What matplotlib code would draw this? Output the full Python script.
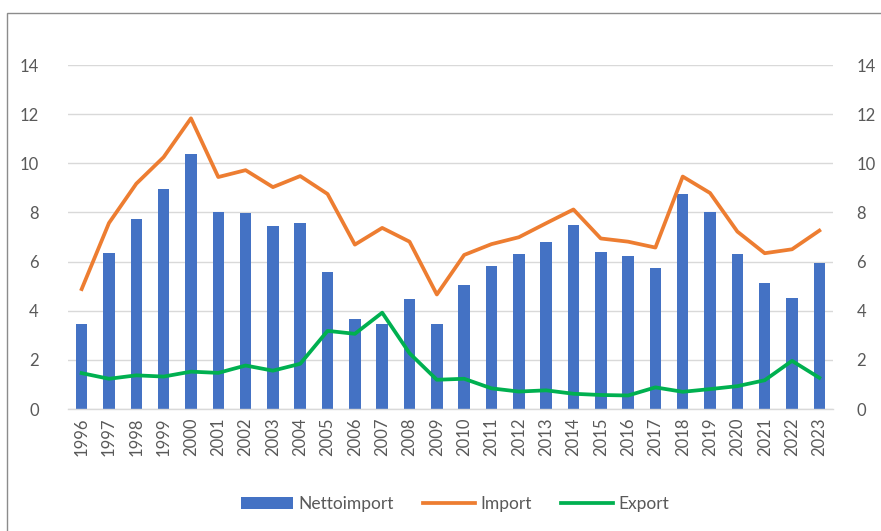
import matplotlib
matplotlib.use("Agg")
import matplotlib.pyplot as plt
from matplotlib.patches import Rectangle
import numpy as np

years = [str(y) for y in range(1996, 2024)]
nettoimport = [3.45, 6.35, 7.75, 8.97, 10.37, 8.02, 7.97, 7.43, 7.59, 5.57,
               3.66, 3.47, 4.49, 3.47, 5.04, 5.82, 6.29, 6.79, 7.49, 6.38,
               6.23, 5.72, 8.74, 8.02, 6.29, 5.14, 4.51, 5.95]
import_ = [4.88, 7.57, 9.17, 10.25, 11.83, 9.44, 9.72, 9.03, 9.48, 8.75,
           6.69, 7.37, 6.81, 4.66, 6.27, 6.71, 6.99, 7.56, 8.12, 6.94,
           6.81, 6.57, 9.46, 8.79, 7.22, 6.34, 6.50, 7.26]
export = [1.46, 1.23, 1.37, 1.32, 1.52, 1.47, 1.77, 1.56, 1.84, 3.18,
          3.06, 3.92, 2.27, 1.19, 1.23, 0.84, 0.71, 0.76, 0.62, 0.57,
          0.55, 0.88, 0.70, 0.81, 0.93, 1.17, 1.96, 1.27]
yticks = [0, 2, 4, 6, 8, 10, 12, 14]

plt.rcParams['font.family'] = ['Lato', 'DejaVu Sans']
fig = plt.figure(figsize=(8.81, 5.31), dpi=100)
W, H = 881, 531
ax = fig.add_axes([68 / W, (H - 409) / H, (833 - 68) / W, (409 - 65) / H])

x = np.arange(len(years))
b = ax.bar(x, nettoimport, width=0.42, color='#4472C4', label='Nettoimport', zorder=2)
l1, = ax.plot(x, import_, color='#ED7D31', lw=2.7, label='Import', zorder=3)
l2, = ax.plot(x, export, color='#00B050', lw=2.7, label='Export', zorder=3)

ax.set_xlim(-0.5, len(years) - 0.5)
ax.set_ylim(0, 14)
ax.set_yticks(yticks)
ax.set_xticks(x)
ax.set_xticklabels(years, rotation=90)
ax.grid(axis='y', color='#D9D9D9', lw=1.0, zorder=0)
for s in ['top', 'right', 'left']:
    ax.spines[s].set_visible(False)
ax.spines['bottom'].set_color('#D9D9D9')
ax.spines['bottom'].set_linewidth(1.0)
ax.tick_params(axis='both', length=0, colors='#595959', labelsize=12)
ax.tick_params(axis='y', pad=21)
ax.tick_params(axis='x', pad=6)

ax2 = ax.twinx()
ax2.set_ylim(0, 14)
ax2.set_yticks(yticks)
for s in ['top', 'right', 'left', 'bottom']:
    ax2.spines[s].set_visible(False)
ax2.tick_params(axis='y', length=0, colors='#595959', labelsize=12, pad=17)

leg = fig.legend([b, l1, l2], ['Nettoimport', 'Import', 'Export'],
                 loc='center', bbox_to_anchor=(455 / W, (H - 504) / H), ncol=3,
                 frameon=False, fontsize=12.5, handlelength=3.0, handletextpad=0.3,
                 columnspacing=1.7)
for t in leg.get_texts():
    t.set_color('#595959')

fig.patches.append(Rectangle((7 / W, -0.1), 1.2, (H - 13) / H + 0.1,
                             transform=fig.transFigure, fill=False,
                             edgecolor='#8C8C8C', lw=1.0))

fig.savefig('out.png', dpi=100)
